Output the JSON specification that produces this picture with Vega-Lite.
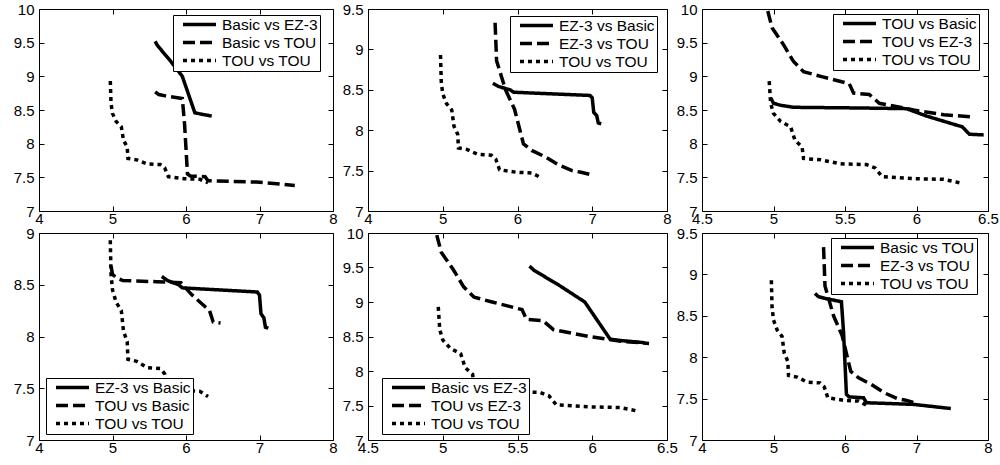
{
"$schema": "https://vega.github.io/schema/vega-lite/v6.json",
"background": "white",
"padding": {"left": 12, "top": 1, "right": 0, "bottom": 0},
"bounds": "flush",
"align": "each",
"spacing": {"row": 22, "column": 35},
"columns": 3,
"resolve": {"scale": {"strokeDash": "independent"}, "legend": {"strokeDash": "independent"}},
"datasets": {"curves": [
{"s":"Basic vs EZ-3","i":1,"x":5.58,"y":9.52},{"s":"Basic vs EZ-3","i":2,"x":5.61,"y":9.46},{"s":"Basic vs EZ-3","i":3,"x":5.78,"y":9.24},{"s":"Basic vs EZ-3","i":4,"x":5.95,"y":9.0},{"s":"Basic vs EZ-3","i":5,"x":6.12,"y":8.46},{"s":"Basic vs EZ-3","i":6,"x":6.2,"y":8.44},{"s":"Basic vs EZ-3","i":7,"x":6.35,"y":8.41},
{"s":"Basic vs TOU","i":1,"x":5.58,"y":8.77},{"s":"Basic vs TOU","i":2,"x":5.63,"y":8.73},{"s":"Basic vs TOU","i":3,"x":5.72,"y":8.71},{"s":"Basic vs TOU","i":4,"x":5.95,"y":8.67},{"s":"Basic vs TOU","i":5,"x":5.98,"y":8.3},{"s":"Basic vs TOU","i":6,"x":6.02,"y":7.55},{"s":"Basic vs TOU","i":7,"x":6.06,"y":7.52},{"s":"Basic vs TOU","i":8,"x":6.26,"y":7.51},{"s":"Basic vs TOU","i":9,"x":6.3,"y":7.45},{"s":"Basic vs TOU","i":10,"x":6.96,"y":7.43},{"s":"Basic vs TOU","i":11,"x":7.48,"y":7.38},
{"s":"TOU vs TOU","i":1,"x":4.97,"y":8.93},{"s":"TOU vs TOU","i":2,"x":4.98,"y":8.6},{"s":"TOU vs TOU","i":3,"x":5.0,"y":8.45},{"s":"TOU vs TOU","i":4,"x":5.05,"y":8.33},{"s":"TOU vs TOU","i":5,"x":5.12,"y":8.25},{"s":"TOU vs TOU","i":6,"x":5.15,"y":8.05},{"s":"TOU vs TOU","i":7,"x":5.2,"y":7.95},{"s":"TOU vs TOU","i":8,"x":5.21,"y":7.78},{"s":"TOU vs TOU","i":9,"x":5.33,"y":7.76},{"s":"TOU vs TOU","i":10,"x":5.47,"y":7.7},{"s":"TOU vs TOU","i":11,"x":5.65,"y":7.69},{"s":"TOU vs TOU","i":12,"x":5.71,"y":7.64},{"s":"TOU vs TOU","i":13,"x":5.76,"y":7.51},{"s":"TOU vs TOU","i":14,"x":5.98,"y":7.48},{"s":"TOU vs TOU","i":15,"x":6.19,"y":7.47},{"s":"TOU vs TOU","i":16,"x":6.3,"y":7.42},
{"s":"EZ-3 vs Basic","i":1,"x":5.67,"y":8.58},{"s":"EZ-3 vs Basic","i":2,"x":5.75,"y":8.54},{"s":"EZ-3 vs Basic","i":3,"x":5.9,"y":8.5},{"s":"EZ-3 vs Basic","i":4,"x":5.95,"y":8.47},{"s":"EZ-3 vs Basic","i":5,"x":6.2,"y":8.46},{"s":"EZ-3 vs Basic","i":6,"x":6.97,"y":8.43},{"s":"EZ-3 vs Basic","i":7,"x":7.0,"y":8.4},{"s":"EZ-3 vs Basic","i":8,"x":7.02,"y":8.22},{"s":"EZ-3 vs Basic","i":9,"x":7.06,"y":8.18},{"s":"EZ-3 vs Basic","i":10,"x":7.08,"y":8.09},{"s":"EZ-3 vs Basic","i":11,"x":7.12,"y":8.08},
{"s":"EZ-3 vs TOU","i":1,"x":5.7,"y":9.33},{"s":"EZ-3 vs TOU","i":2,"x":5.71,"y":9.1},{"s":"EZ-3 vs TOU","i":3,"x":5.72,"y":8.86},{"s":"EZ-3 vs TOU","i":4,"x":5.79,"y":8.65},{"s":"EZ-3 vs TOU","i":5,"x":5.84,"y":8.5},{"s":"EZ-3 vs TOU","i":6,"x":5.96,"y":8.26},{"s":"EZ-3 vs TOU","i":7,"x":6.08,"y":7.83},{"s":"EZ-3 vs TOU","i":8,"x":6.19,"y":7.75},{"s":"EZ-3 vs TOU","i":9,"x":6.37,"y":7.67},{"s":"EZ-3 vs TOU","i":10,"x":6.55,"y":7.57},{"s":"EZ-3 vs TOU","i":11,"x":6.73,"y":7.5},{"s":"EZ-3 vs TOU","i":12,"x":6.85,"y":7.48},{"s":"EZ-3 vs TOU","i":13,"x":7.02,"y":7.44},
{"s":"TOU vs Basic","i":1,"x":4.98,"y":8.68},{"s":"TOU vs Basic","i":2,"x":5.0,"y":8.6},{"s":"TOU vs Basic","i":3,"x":5.05,"y":8.57},{"s":"TOU vs Basic","i":4,"x":5.14,"y":8.54},{"s":"TOU vs Basic","i":5,"x":5.6,"y":8.53},{"s":"TOU vs Basic","i":6,"x":5.93,"y":8.52},{"s":"TOU vs Basic","i":7,"x":6.07,"y":8.41},{"s":"TOU vs Basic","i":8,"x":6.32,"y":8.25},{"s":"TOU vs Basic","i":9,"x":6.37,"y":8.14},{"s":"TOU vs Basic","i":10,"x":6.47,"y":8.13},
{"s":"TOU vs EZ-3","i":1,"x":4.96,"y":9.97},{"s":"TOU vs EZ-3","i":2,"x":4.99,"y":9.72},{"s":"TOU vs EZ-3","i":3,"x":5.07,"y":9.47},{"s":"TOU vs EZ-3","i":4,"x":5.14,"y":9.22},{"s":"TOU vs EZ-3","i":5,"x":5.21,"y":9.07},{"s":"TOU vs EZ-3","i":6,"x":5.33,"y":9.0},{"s":"TOU vs EZ-3","i":7,"x":5.53,"y":8.89},{"s":"TOU vs EZ-3","i":8,"x":5.56,"y":8.75},{"s":"TOU vs EZ-3","i":9,"x":5.67,"y":8.73},{"s":"TOU vs EZ-3","i":10,"x":5.74,"y":8.6},{"s":"TOU vs EZ-3","i":11,"x":5.98,"y":8.5},{"s":"TOU vs EZ-3","i":12,"x":6.19,"y":8.43},{"s":"TOU vs EZ-3","i":13,"x":6.38,"y":8.4}
]},
"config": {
"view": {"stroke": "black", "strokeWidth": 1},
"axis": {"grid": false, "domain": false, "ticks": true, "tickSize": -5, "tickColor": "black", "tickWidth": 1, "labelFont": "Liberation Sans", "labelFontSize": 15, "labelColor": "black", "labelFlush": false, "labelOverlap": false, "format": "~g"},
"axisX": {"labelPadding": 5},
"axisY": {"labelPadding": 10},
"legend": {"symbolType": "stroke", "symbolSize": 1089, "symbolStrokeWidth": 3.5, "symbolStrokeColor": "black", "labelFont": "Liberation Sans", "labelFontSize": 15.5, "labelColor": "black", "strokeColor": "black", "strokeWidth": 1, "fillColor": "white", "padding": 2, "clipHeight": 15, "rowPadding": 2, "symbolOffset": 6, "labelOffset": 4, "cornerRadius": 0, "labelLimit": 300}
},
"concat": [
{"width": 294, "height": 202, "data": {"name": "curves"},
 "transform": [{"filter": {"field": "s", "oneOf": ["Basic vs EZ-3","Basic vs TOU","TOU vs TOU"]}}],
 "layer": [
  {"mark": {"type": "line", "color": "black", "strokeWidth": 3.5, "strokeCap": "butt", "clip": true},
   "encoding": {
    "x": {"field": "x", "type": "quantitative", "title": null, "scale": {"domain": [4,8], "nice": false, "zero": false}, "axis": {"orient": "bottom", "values": [4,5,6,7,8]}},
    "y": {"field": "y", "type": "quantitative", "title": null, "scale": {"domain": [7,10], "nice": false, "zero": false}, "axis": {"orient": "left", "values": [7,7.5,8,8.5,9,9.5,10]}},
    "strokeDash": {"field": "s", "type": "nominal", "title": null, "scale": {"domain": ["Basic vs EZ-3","Basic vs TOU","TOU vs TOU"], "range": [[1,0],[12,5],[4,4]]}, "legend": {"orient": "none", "legendX": 134, "legendY": 6}},
    "order": {"field": "i"}}},
  {"mark": {"type": "line", "opacity": 0},
   "encoding": {
    "x": {"field": "x", "type": "quantitative", "title": null, "scale": {"domain": [4,8], "nice": false, "zero": false}, "axis": {"orient": "top", "labels": false, "values": [4,5,6,7,8]}},
    "y": {"field": "y", "type": "quantitative", "title": null, "scale": {"domain": [7,10], "nice": false, "zero": false}, "axis": {"orient": "right", "labels": false, "values": [7,7.5,8,8.5,9,9.5,10]}}}}
 ],
 "resolve": {"axis": {"x": "independent", "y": "independent"}}},
{"width": 299, "height": 202, "data": {"name": "curves"},
 "transform": [{"filter": {"field": "s", "oneOf": ["EZ-3 vs Basic","EZ-3 vs TOU","TOU vs TOU"]}}],
 "layer": [
  {"mark": {"type": "line", "color": "black", "strokeWidth": 3.5, "strokeCap": "butt", "clip": true},
   "encoding": {
    "x": {"field": "x", "type": "quantitative", "title": null, "scale": {"domain": [4,8], "nice": false, "zero": false}, "axis": {"orient": "bottom", "values": [4,5,6,7,8]}},
    "y": {"field": "y", "type": "quantitative", "title": null, "scale": {"domain": [7,9.5], "nice": false, "zero": false}, "axis": {"orient": "left", "values": [7,7.5,8,8.5,9,9.5]}},
    "strokeDash": {"field": "s", "type": "nominal", "title": null, "scale": {"domain": ["EZ-3 vs Basic","EZ-3 vs TOU","TOU vs TOU"], "range": [[1,0],[12,5],[4,4]]}, "legend": {"orient": "none", "legendX": 142, "legendY": 7}},
    "order": {"field": "i"}}},
  {"mark": {"type": "line", "opacity": 0},
   "encoding": {
    "x": {"field": "x", "type": "quantitative", "title": null, "scale": {"domain": [4,8], "nice": false, "zero": false}, "axis": {"orient": "top", "labels": false, "values": [4,5,6,7,8]}},
    "y": {"field": "y", "type": "quantitative", "title": null, "scale": {"domain": [7,9.5], "nice": false, "zero": false}, "axis": {"orient": "right", "labels": false, "values": [7,7.5,8,8.5,9,9.5]}}}}
 ],
 "resolve": {"axis": {"x": "independent", "y": "independent"}}},
{"width": 286, "height": 202, "data": {"name": "curves"},
 "transform": [{"filter": {"field": "s", "oneOf": ["TOU vs Basic","TOU vs EZ-3","TOU vs TOU"]}}],
 "layer": [
  {"mark": {"type": "line", "color": "black", "strokeWidth": 3.5, "strokeCap": "butt", "clip": true},
   "encoding": {
    "x": {"field": "x", "type": "quantitative", "title": null, "scale": {"domain": [4.5,6.5], "nice": false, "zero": false}, "axis": {"orient": "bottom", "values": [4.5,5,5.5,6,6.5]}},
    "y": {"field": "y", "type": "quantitative", "title": null, "scale": {"domain": [7,10], "nice": false, "zero": false}, "axis": {"orient": "left", "values": [7,7.5,8,8.5,9,9.5,10]}},
    "strokeDash": {"field": "s", "type": "nominal", "title": null, "scale": {"domain": ["TOU vs Basic","TOU vs EZ-3","TOU vs TOU"], "range": [[1,0],[12,5],[4,4]]}, "legend": {"orient": "none", "legendX": 131, "legendY": 5}},
    "order": {"field": "i"}}},
  {"mark": {"type": "line", "opacity": 0},
   "encoding": {
    "x": {"field": "x", "type": "quantitative", "title": null, "scale": {"domain": [4.5,6.5], "nice": false, "zero": false}, "axis": {"orient": "top", "labels": false, "values": [4.5,5,5.5,6,6.5]}},
    "y": {"field": "y", "type": "quantitative", "title": null, "scale": {"domain": [7,10], "nice": false, "zero": false}, "axis": {"orient": "right", "labels": false, "values": [7,7.5,8,8.5,9,9.5,10]}}}}
 ],
 "resolve": {"axis": {"x": "independent", "y": "independent"}}},
{"width": 294, "height": 207, "data": {"name": "curves"},
 "transform": [{"filter": {"field": "s", "oneOf": ["EZ-3 vs Basic","TOU vs Basic","TOU vs TOU"]}}],
 "layer": [
  {"mark": {"type": "line", "color": "black", "strokeWidth": 3.5, "strokeCap": "butt", "clip": true},
   "encoding": {
    "x": {"field": "x", "type": "quantitative", "title": null, "scale": {"domain": [4,8], "nice": false, "zero": false}, "axis": {"orient": "bottom", "values": [4,5,6,7,8]}},
    "y": {"field": "y", "type": "quantitative", "title": null, "scale": {"domain": [7,9], "nice": false, "zero": false}, "axis": {"orient": "left", "values": [7,7.5,8,8.5,9]}},
    "strokeDash": {"field": "s", "type": "nominal", "title": null, "scale": {"domain": ["EZ-3 vs Basic","TOU vs Basic","TOU vs TOU"], "range": [[1,0],[12,5],[4,4]]}, "legend": {"orient": "none", "legendX": 7, "legendY": 145}},
    "order": {"field": "i"}}},
  {"mark": {"type": "line", "opacity": 0},
   "encoding": {
    "x": {"field": "x", "type": "quantitative", "title": null, "scale": {"domain": [4,8], "nice": false, "zero": false}, "axis": {"orient": "top", "labels": false, "values": [4,5,6,7,8]}},
    "y": {"field": "y", "type": "quantitative", "title": null, "scale": {"domain": [7,9], "nice": false, "zero": false}, "axis": {"orient": "right", "labels": false, "values": [7,7.5,8,8.5,9]}}}}
 ],
 "resolve": {"axis": {"x": "independent", "y": "independent"}}},
{"width": 299, "height": 207, "data": {"name": "curves"},
 "transform": [{"filter": {"field": "s", "oneOf": ["Basic vs EZ-3","TOU vs EZ-3","TOU vs TOU"]}}],
 "layer": [
  {"mark": {"type": "line", "color": "black", "strokeWidth": 3.5, "strokeCap": "butt", "clip": true},
   "encoding": {
    "x": {"field": "x", "type": "quantitative", "title": null, "scale": {"domain": [4.5,6.5], "nice": false, "zero": false}, "axis": {"orient": "bottom", "values": [4.5,5,5.5,6,6.5]}},
    "y": {"field": "y", "type": "quantitative", "title": null, "scale": {"domain": [7,10], "nice": false, "zero": false}, "axis": {"orient": "left", "values": [7,7.5,8,8.5,9,9.5,10]}},
    "strokeDash": {"field": "s", "type": "nominal", "title": null, "scale": {"domain": ["Basic vs EZ-3","TOU vs EZ-3","TOU vs TOU"], "range": [[1,0],[12,5],[4,4]]}, "legend": {"orient": "none", "legendX": 14, "legendY": 145}},
    "order": {"field": "i"}}},
  {"mark": {"type": "line", "opacity": 0},
   "encoding": {
    "x": {"field": "x", "type": "quantitative", "title": null, "scale": {"domain": [4.5,6.5], "nice": false, "zero": false}, "axis": {"orient": "top", "labels": false, "values": [4.5,5,5.5,6,6.5]}},
    "y": {"field": "y", "type": "quantitative", "title": null, "scale": {"domain": [7,10], "nice": false, "zero": false}, "axis": {"orient": "right", "labels": false, "values": [7,7.5,8,8.5,9,9.5,10]}}}}
 ],
 "resolve": {"axis": {"x": "independent", "y": "independent"}}},
{"width": 286, "height": 207, "data": {"name": "curves"},
 "transform": [{"filter": {"field": "s", "oneOf": ["Basic vs TOU","EZ-3 vs TOU","TOU vs TOU"]}}],
 "layer": [
  {"mark": {"type": "line", "color": "black", "strokeWidth": 3.5, "strokeCap": "butt", "clip": true},
   "encoding": {
    "x": {"field": "x", "type": "quantitative", "title": null, "scale": {"domain": [4,8], "nice": false, "zero": false}, "axis": {"orient": "bottom", "values": [4,5,6,7,8]}},
    "y": {"field": "y", "type": "quantitative", "title": null, "scale": {"domain": [7,9.5], "nice": false, "zero": false}, "axis": {"orient": "left", "values": [7,7.5,8,8.5,9,9.5]}},
    "strokeDash": {"field": "s", "type": "nominal", "title": null, "scale": {"domain": ["Basic vs TOU","EZ-3 vs TOU","TOU vs TOU"], "range": [[1,0],[12,5],[4,4]]}, "legend": {"orient": "none", "legendX": 129, "legendY": 5}},
    "order": {"field": "i"}}},
  {"mark": {"type": "line", "opacity": 0},
   "encoding": {
    "x": {"field": "x", "type": "quantitative", "title": null, "scale": {"domain": [4,8], "nice": false, "zero": false}, "axis": {"orient": "top", "labels": false, "values": [4,5,6,7,8]}},
    "y": {"field": "y", "type": "quantitative", "title": null, "scale": {"domain": [7,9.5], "nice": false, "zero": false}, "axis": {"orient": "right", "labels": false, "values": [7,7.5,8,8.5,9,9.5]}}}}
 ],
 "resolve": {"axis": {"x": "independent", "y": "independent"}}}
]
}
